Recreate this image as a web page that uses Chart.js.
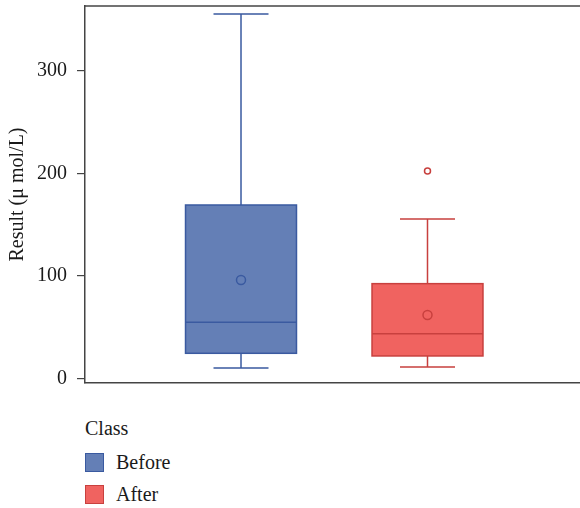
<!DOCTYPE html>
<html>
<head>
<meta charset="utf-8">
<script src="https://cdn.jsdelivr.net/npm/chart.js@4/dist/chart.umd.min.js"></script>
<style>
    html, body { margin: 0; padding: 0; background: #fff; }
    #wrap { position: relative; width: 580px; height: 508px; }
    #plot { position: absolute; left: 0; top: 0; width: 580px; height: 392px; }
    #legend { position: absolute; left: 85px; top: 415px; font-family: 'Liberation Serif', serif; font-size: 20px; color: #1a1a1a; }
    #legend .title { height: 26px; line-height: 26px; }
    #legend .item { display: flex; align-items: center; height: 19px; margin-top: 12px; }
    #legend .item + .item { margin-top: 13px; }
    #legend .swatch { width: 17px; height: 17px; border: 1px solid; margin-right: 12px; }
</style>
</head>
<body>
<div id="wrap">
    <div id="plot"><canvas id="chart"></canvas></div>
    <div id="legend"></div>
</div>
<script>
const classes = ['Before', 'After'];
const positions = [1, 2];
const whiskerLow = [10, 11];
const q1 = [24.4, 21.8];
const median = [54.7, 43.5];
const q3 = [169.2, 92.4];
const whiskerHigh = [355.7, 155.5];
const means = [96, 61.8];
const outliers = [[], [202.4]];
const yTicks = [0, 100, 200, 300];

const fillColors = ['rgb(100, 127, 182)', 'rgb(240, 99, 96)'];
const lineColors = ['rgb(58, 90, 160)', 'rgb(200, 64, 62)'];
const boxWidth = 0.595;
const capWidth = 0.295;
const serif = "'Liberation Serif', serif";

// boxes, medians, whiskers and caps are drawn under the mean/outlier points
const boxPlot = {
    id: 'boxPlot',
    beforeDatasetsDraw(chart) {
        const {ctx, scales: {x, y}} = chart;
        ctx.save();
        ctx.lineWidth = 1.5;
        classes.forEach((c, i) => {
            const cx = x.getPixelForValue(positions[i]);
            const left = x.getPixelForValue(positions[i] - boxWidth / 2);
            const right = x.getPixelForValue(positions[i] + boxWidth / 2);
            const capL = x.getPixelForValue(positions[i] - capWidth / 2);
            const capR = x.getPixelForValue(positions[i] + capWidth / 2);
            const yLow = y.getPixelForValue(whiskerLow[i]);
            const yHigh = y.getPixelForValue(whiskerHigh[i]);
            const yQ1 = y.getPixelForValue(q1[i]);
            const yQ3 = y.getPixelForValue(q3[i]);
            const yMed = y.getPixelForValue(median[i]);
            ctx.strokeStyle = lineColors[i];

            ctx.beginPath();
            ctx.moveTo(cx, yHigh); ctx.lineTo(cx, yQ3);
            ctx.moveTo(cx, yQ1); ctx.lineTo(cx, yLow);
            ctx.moveTo(capL, yHigh); ctx.lineTo(capR, yHigh);
            ctx.moveTo(capL, yLow); ctx.lineTo(capR, yLow);
            ctx.stroke();

            ctx.fillStyle = fillColors[i];
            ctx.fillRect(left, yQ3, right - left, yQ1 - yQ3);
            ctx.strokeRect(left, yQ3, right - left, yQ1 - yQ3);

            ctx.beginPath();
            ctx.moveTo(left, yMed); ctx.lineTo(right, yMed);
            ctx.stroke();
        });
        ctx.restore();
    },
    afterDraw(chart) {
        const {ctx, chartArea} = chart;
        ctx.save();
        ctx.strokeStyle = '#444';
        ctx.lineWidth = 1.5;
        ctx.beginPath();
        ctx.moveTo(chartArea.left, chartArea.top);
        ctx.lineTo(chartArea.right, chartArea.top);
        ctx.stroke();
        ctx.restore();
    }
};

const datasets = [];
classes.forEach((c, i) => {
    datasets.push({
        label: c + ' mean',
        data: [{x: positions[i], y: means[i]}],
        pointRadius: 4.5,
        pointBorderWidth: 1.5,
        pointBackgroundColor: 'rgba(0,0,0,0)',
        pointBorderColor: lineColors[i]
    });
    datasets.push({
        label: c + ' outliers',
        data: outliers[i].map(v => ({x: positions[i], y: v})),
        pointRadius: 3,
        pointBorderWidth: 1.5,
        pointBackgroundColor: 'rgba(0,0,0,0)',
        pointBorderColor: lineColors[i]
    });
});

new Chart(document.getElementById('chart'), {
    type: 'scatter',
    data: { datasets: datasets },
    plugins: [boxPlot],
    options: {
        responsive: true,
        maintainAspectRatio: false,
        animation: false,
        layout: { autoPadding: false, padding: { top: 6, bottom: 9, left: 0, right: 0 } },
        plugins: {
            legend: { display: false },
            tooltip: { enabled: false }
        },
        scales: {
            x: {
                type: 'linear',
                min: 0.1635,
                max: 2.8177,
                grid: { display: false, drawTicks: false },
                ticks: { display: false },
                border: { display: true, color: '#444', width: 1.5 },
                afterFit: s => {
                    s.height = 0;
                    s.paddingLeft = 0;
                    s.paddingRight = 0;
                }
            },
            y: {
                min: -4.6,
                max: 363.5,
                afterBuildTicks: s => { s.ticks = yTicks.map(v => ({value: v})); },
                afterFit: s => {
                    s.width = 85;
                    s.paddingTop = 0;
                    s.paddingBottom = 0;
                },
                grid: { drawOnChartArea: false, drawTicks: true, tickLength: 8, color: '#444', lineWidth: 1.2 },
                border: { display: true, color: '#444', width: 1.5 },
                ticks: {
                    padding: 10,
                    color: '#1a1a1a',
                    font: { family: serif, size: 20 }
                },
                title: {
                    display: true,
                    text: 'Result (μ mol/L)',
                    color: '#1a1a1a',
                    font: { family: serif, size: 20 },
                    padding: { top: 6, bottom: 0 }
                }
            }
        }
    }
});

const legend = document.getElementById('legend');
legend.innerHTML = '<div class="title">Class</div>' + classes.map((c, i) =>
    '<div class="item"><span class="swatch" style="background:' + fillColors[i] +
    ';border-color:' + lineColors[i] + '"></span>' + c + '</div>').join('');
</script>
</body>
</html>
